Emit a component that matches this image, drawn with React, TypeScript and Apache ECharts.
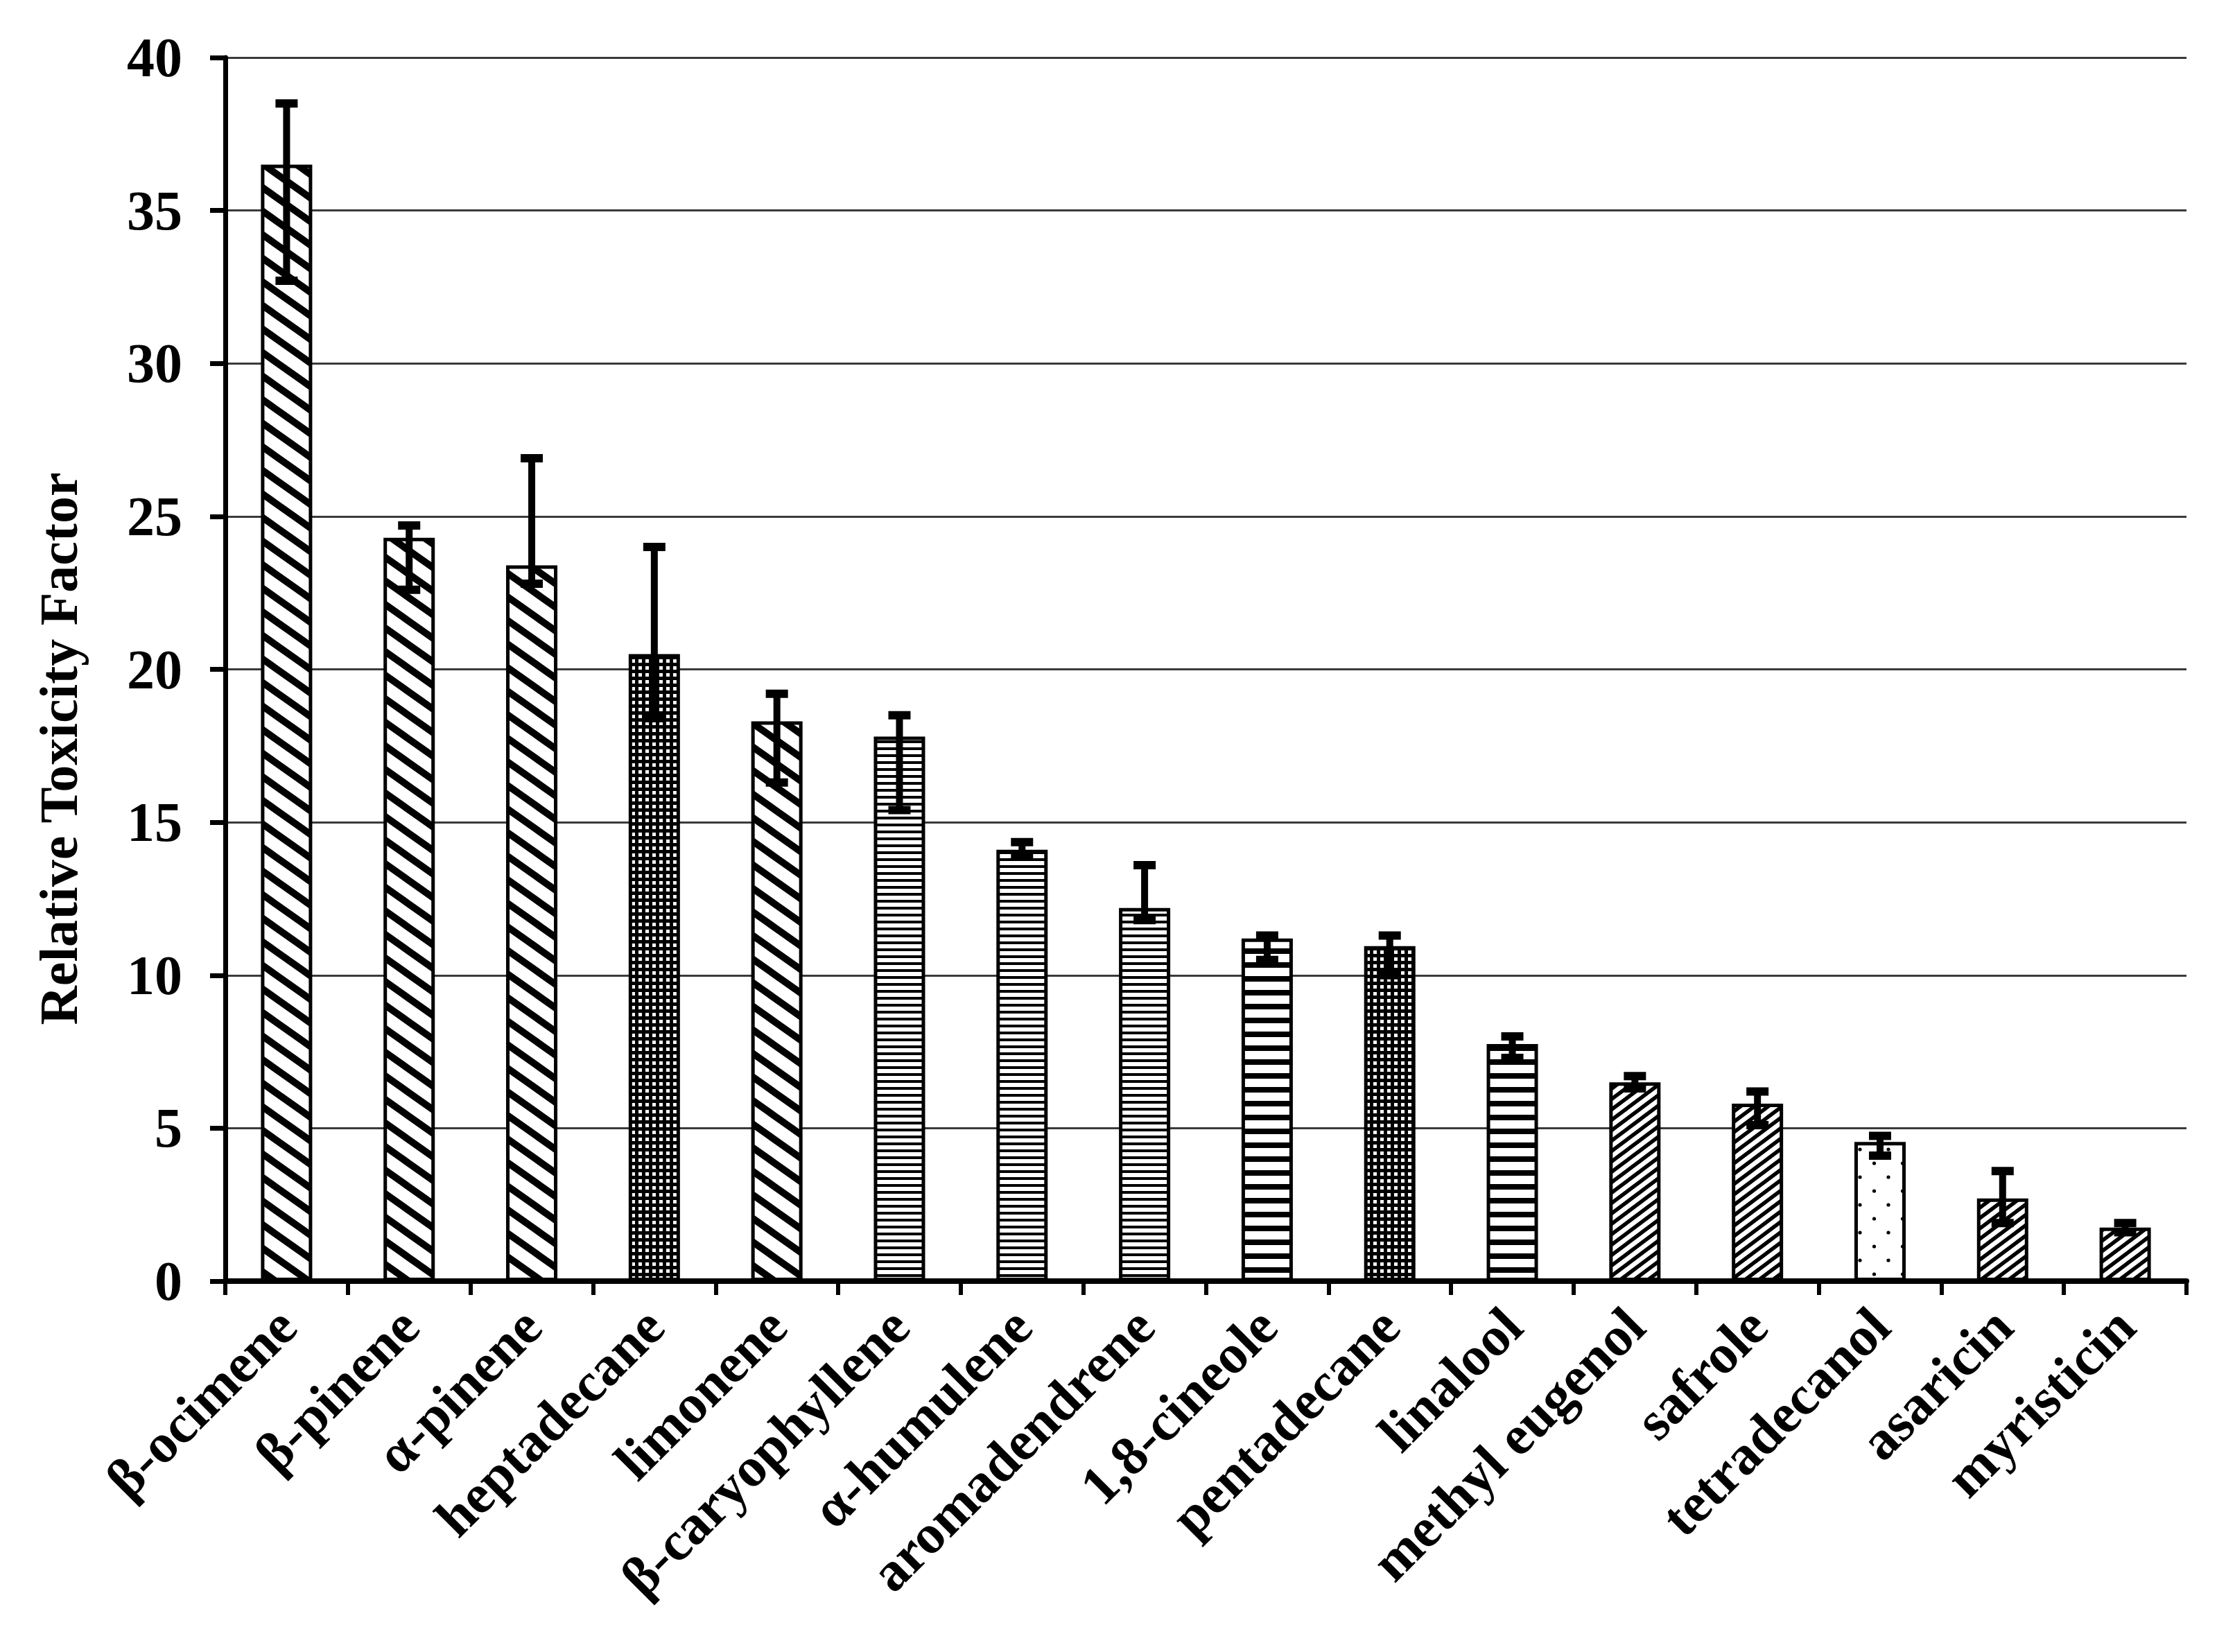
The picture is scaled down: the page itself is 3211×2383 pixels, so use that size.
import React, { useEffect, useRef } from "react";
import * as echarts from "echarts";

const categories = [
  "β-ocimene",
  "β-pinene",
  "α-pinene",
  "heptadecane",
  "limonene",
  "β-caryophyllene",
  "α-humulene",
  "aromadendrene",
  "1,8-cineole",
  "pentadecane",
  "linalool",
  "methyl eugenol",
  "safrole",
  "tetradecanol",
  "asaricin",
  "myristicin",
];

const values = [36.5, 24.3, 23.4, 20.5, 18.3, 17.8, 14.1, 12.2, 11.2, 10.95, 7.75, 6.5, 5.8, 4.55, 2.7, 1.75];
const errorHigh = [38.5, 24.7, 26.9, 24.0, 19.2, 18.5, 14.35, 13.6, 11.3, 11.3, 8.0, 6.7, 6.2, 4.75, 3.6, 1.9];
const errorLow = [32.7, 22.6, 22.8, 18.4, 16.3, 15.4, 13.9, 11.8, 10.5, 10.0, 7.3, 6.3, 5.1, 4.1, 1.9, 1.6];

const yTickValues = [0, 5, 10, 15, 20, 25, 30, 35, 40];
const yTitle = "Relative Toxicity Factor";

type PatternKind = "wideDown" | "smallGrid" | "narrowHoriz" | "wideHoriz" | "denseUp" | "sparseDots";

const patternOf: Record<string, PatternKind> = {
  "β-ocimene": "wideDown",
  "β-pinene": "wideDown",
  "α-pinene": "wideDown",
  heptadecane: "smallGrid",
  limonene: "wideDown",
  "β-caryophyllene": "narrowHoriz",
  "α-humulene": "narrowHoriz",
  aromadendrene: "narrowHoriz",
  "1,8-cineole": "wideHoriz",
  pentadecane: "smallGrid",
  linalool: "wideHoriz",
  "methyl eugenol": "denseUp",
  safrole: "denseUp",
  tetradecanol: "sparseDots",
  asaricin: "denseUp",
  myristicin: "denseUp",
};

function tile(w: number, h: number, draw: (ctx: CanvasRenderingContext2D) => void): string {
  const c = document.createElement("canvas");
  c.width = w;
  c.height = h;
  const ctx = c.getContext("2d") as CanvasRenderingContext2D;
  ctx.fillStyle = "#fff";
  ctx.fillRect(0, 0, w, h);
  ctx.fillStyle = "#000";
  ctx.strokeStyle = "#000";
  draw(ctx);
  return c.toDataURL("image/png");
}

function diagonal(w: number, h: number, lw: number, up: boolean): string {
  return tile(w, h, (ctx) => {
    ctx.lineWidth = lw;
    for (let j = -3; j <= 4; j++) {
      ctx.beginPath();
      if (!up) {
        ctx.moveTo(-w, -h + j * h);
        ctx.lineTo(2 * w, 2 * h + j * h);
      } else {
        ctx.moveTo(-w, h + j * h);
        ctx.lineTo(2 * w, -2 * h + j * h);
      }
      ctx.stroke();
    }
  });
}

function buildPatterns(): Record<PatternKind, any> {
  const mk = (img: string) => ({ image: img, repeat: "repeat" });
  return {
    wideDown: mk(diagonal(48, 34, 10, false)),
    denseUp: mk(diagonal(20, 15, 5.5, true)),
    smallGrid: mk(
      tile(10, 10, (ctx) => {
        ctx.fillRect(0, 0, 10, 10);
        ctx.fillStyle = "#fff";
        ctx.fillRect(3, 3, 5, 5);
      })
    ),
    narrowHoriz: mk(
      tile(4, 10, (ctx) => {
        ctx.fillRect(0, 0, 4, 4);
      })
    ),
    wideHoriz: mk(
      tile(4, 20, (ctx) => {
        ctx.fillRect(0, 0, 4, 8);
      })
    ),
    sparseDots: mk(
      tile(41, 40, (ctx) => {
        ctx.beginPath();
        ctx.arc(10, 10, 2.6, 0, Math.PI * 2);
        ctx.fill();
        ctx.beginPath();
        ctx.arc(30.5, 30, 2.6, 0, Math.PI * 2);
        ctx.fill();
      })
    ),
  };
}

const FONT = "'Liberation Serif', 'Times New Roman', serif";

export default function App() {
  const ref = useRef<HTMLDivElement>(null);

  useEffect(() => {
    if (!ref.current) return;
    const chart = echarts.init(ref.current, undefined, { renderer: "svg" });
    const patterns = buildPatterns();

    const barData = values.map((v, i) => ({
      value: v,
      itemStyle: { color: patterns[patternOf[categories[i]]] },
    }));
    const errData = categories.map((_, i) => [i, errorLow[i], errorHigh[i]]);

    chart.setOption({
      animation: false,
      backgroundColor: "#fff",
      grid: { left: 317, right: 49, top: 75, bottom: 527, containLabel: false },
      xAxis: {
        type: "category",
        data: categories,
        axisLine: { show: true, lineStyle: { color: "#000", width: 8 } },
        axisTick: { show: true, length: 20, lineStyle: { color: "#000", width: 6 } },
        axisLabel: {
          interval: 0,
          rotate: 45,
          margin: 52,
          fontSize: 80,
          fontWeight: "bold",
          fontFamily: FONT,
          color: "#000",
        },
      },
      yAxis: {
        type: "value",
        min: yTickValues[0],
        max: yTickValues[yTickValues.length - 1],
        interval: yTickValues[1] - yTickValues[0],
        axisLine: { show: true, lineStyle: { color: "#000", width: 7 } },
        axisTick: { show: true, length: 22, lineStyle: { color: "#000", width: 7 } },
        axisLabel: {
          margin: 62,
          fontSize: 80,
          fontWeight: "bold",
          fontFamily: FONT,
          color: "#000",
        },
        splitLine: { show: true, lineStyle: { color: "#3a3a3a", width: 3 } },
      },
      graphic: [
        {
          type: "text",
          x: 76,
          y: 1072,
          rotation: Math.PI / 2,
          style: {
            text: yTitle,
            fontSize: 78,
            fontWeight: "bold",
            fontFamily: FONT,
            fill: "#000",
            textAlign: "center",
            textVerticalAlign: "middle",
          },
        },
      ],
      series: [
        {
          type: "bar",
          data: barData,
          barWidth: 74,
          itemStyle: { borderColor: "#000", borderWidth: 5 },
          z: 2,
        },
        {
          type: "custom",
          data: errData,
          encode: { x: 0, y: [1, 2] },
          z: 5,
          renderItem: (params: any, api: any) => {
            const idx = api.value(0);
            const lo = api.coord([idx, api.value(1)]);
            const hi = api.coord([idx, api.value(2)]);
            const x = hi[0];
            const capW = 32;
            const capH = 12;
            return {
              type: "group",
              children: [
                {
                  type: "line",
                  shape: { x1: x, y1: hi[1], x2: x, y2: lo[1] },
                  style: { stroke: "#000", lineWidth: 10 },
                },
                {
                  type: "rect",
                  shape: { x: x - capW / 2, y: hi[1] - capH / 2, width: capW, height: capH },
                  style: { fill: "#000" },
                },
                {
                  type: "rect",
                  shape: { x: x - capW / 2, y: lo[1] - capH / 2, width: capW, height: capH },
                  style: { fill: "#000" },
                },
              ],
            };
          },
        },
      ],
    });

    return () => {
      chart.dispose();
    };
  }, []);

  return <div ref={ref} style={{ width: 3195, height: 2367 }} />;
}
